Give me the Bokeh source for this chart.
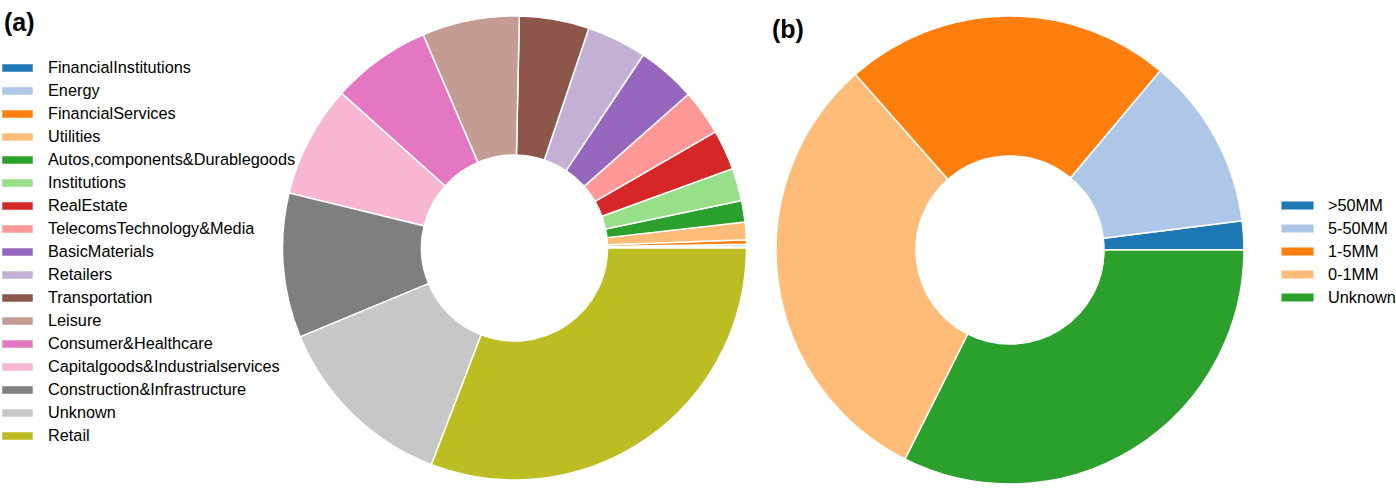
import numpy as np
from bokeh.plotting import figure
from bokeh.models import ColumnDataSource, Legend, LegendItem, Label, Range1d
from bokeh.embed import file_html
from bokeh.resources import INLINE

# ---------------- data ----------------
sectors = [
    "FinancialInstitutions", "Energy", "FinancialServices", "Utilities",
    "Autos,components&Durablegoods", "Institutions", "RealEstate",
    "TelecomsTechnology&Media", "BasicMaterials", "Retailers", "Transportation",
    "Leisure", "Consumer&Healthcare", "Capitalgoods&Industrialservices",
    "Construction&Infrastructure", "Unknown", "Retail",
]
sector_share = [0.11, 0.14, 0.31, 1.22, 1.50, 2.28, 2.78, 3.19, 4.11, 4.17,
                4.86, 6.78, 6.94, 7.81, 10.06, 12.92, 30.83]

sizes = [">50MM", "5-50MM", "1-5MM", "0-1MM", "Unknown"]
size_share = [2.0, 11.9, 22.6, 31.1, 32.4]

palette = ["#1f77b4", "#aec7e8", "#ff7f0e", "#ffbb78", "#2ca02c", "#98df8a",
           "#d62728", "#ff9896", "#9467bd", "#c5b0d5", "#8c564b", "#c49c94",
           "#e377c2", "#f7b6d2", "#7f7f7f", "#c7c7c7", "#bcbd22"]

FONT = "Liberation Sans"
W, H = 1396, 488


def wedge_source(names, values):
    v = np.asarray(values, dtype=float)
    frac = v / v.sum()
    end = np.cumsum(frac) * 2 * np.pi
    start = end - frac * 2 * np.pi
    return ColumnDataSource(dict(name=list(names), start=start, end=end,
                                 color=palette[:len(names)]))


p = figure(width=W, height=H, x_range=Range1d(0, W), y_range=Range1d(0, H),
           x_axis_type=None, y_axis_type=None, toolbar_location=None,
           output_backend="svg", min_border=0, outline_line_color=None,
           background_fill_color="white", border_fill_color="white")
p.grid.visible = False

src_a = wedge_source(sectors, sector_share)
src_b = wedge_source(sizes, size_share)

ra = p.annular_wedge(x=514, y=240.5, inner_radius=93, outer_radius=232,
                     start_angle="start", end_angle="end", fill_color="color",
                     line_color="white", line_width=1.5, source=src_a)
rb = p.annular_wedge(x=1009.5, y=238.5, inner_radius=94, outer_radius=234,
                     start_angle="start", end_angle="end", fill_color="color",
                     line_color="white", line_width=1.5, source=src_b)

leg_a = Legend(items=[LegendItem(label=n, renderers=[ra], index=i)
                      for i, n in enumerate(sectors)],
               location=(-3, 43), glyph_width=40, glyph_height=11,
               label_standoff=11, label_height=20, spacing=3,
               label_text_font=FONT, label_text_font_size="16.3px",
               label_text_color="black", padding=0, margin=0,
               border_line_color=None, background_fill_alpha=0)
leg_b = Legend(items=[LegendItem(label=n, renderers=[rb], index=i)
                      for i, n in enumerate(sizes)],
               location=(1276, 180.7), glyph_width=42, glyph_height=12,
               label_standoff=10, label_height=20, spacing=3,
               label_text_font=FONT, label_text_font_size="16.3px",
               label_text_color="black", padding=0, margin=0,
               border_line_color=None, background_fill_alpha=0)
p.add_layout(leg_a, "center")
p.add_layout(leg_b, "center")

p.add_layout(Label(x=3.5, y=466.8, text="(a)", text_font=FONT,
                   text_font_size="25px", text_font_style="bold",
                   text_color="black", text_baseline="alphabetic"))
p.add_layout(Label(x=771.5, y=459.8, text="(b)", text_font=FONT,
                   text_font_size="25px", text_font_style="bold",
                   text_color="black", text_baseline="alphabetic"))

open("out.html", "w").write(file_html(p, INLINE))
